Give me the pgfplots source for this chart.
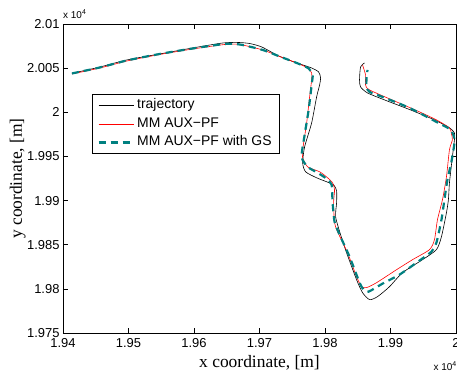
\documentclass[border=0pt]{standalone}
\usepackage{pgfplots}
\pgfplotsset{compat=1.18}
\usepackage{fontspec}
\setmainfont{Liberation Serif}
\setsansfont{Liberation Sans}
\definecolor{gsteal}{rgb}{0.0,0.5,0.5}
\begin{document}
\begin{tikzpicture}
\begin{axis}[
  at={(0,0)}, anchor=south west,
  scale only axis, width=393bp, height=309bp,
  xmin=19400, xmax=20000, ymin=19750, ymax=20100,
  scaled ticks=false,
  xtick={19400,19500,19600,19700,19800,19900,20000},
  xticklabels={1.94,1.95,1.96,1.97,1.98,1.99,2},
  ytick={19750,19800,19850,19900,19950,20000,20050,20100},
  yticklabels={1.975,1.98,1.985,1.99,1.995,2,2.005,2.01},
  tick align=inside, major tick length=5bp,
  axis line style={line width=0.9bp},
  every tick/.style={black, line width=0.6bp},
  tick label style={font=\sffamily\fontsize{13}{15}\selectfont},
  xticklabel style={yshift=-2bp},
  legend image code/.code={\draw[#1] (0bp,0bp) -- (35bp,0bp);},
  legend style={at={(rel axis cs:0.0738,0.7735)}, anchor=north west,
    draw=black, line width=0.9bp,
    font=\sffamily\fontsize{14}{16}\selectfont,
    nodes={text height=9.5bp, text depth=3bp, inner ysep=0bp, inner xsep=2.5bp},
    row sep=6bp, inner xsep=5bp, inner ysep=4.75bp},
  legend cell align=left,
]
\addplot[black, line width=0.6bp, smooth, tension=0.4] coordinates {
(19413.7,20044.2) (19455.0,20051.0) (19497.6,20059.3) (19547.9,20066.1) (19598.2,20072.9)
(19643.9,20078.5) (19666.8,20079.1) (19685.1,20077.9) (19703.4,20074.0) (19729.3,20063.8)
(19756.7,20055.9) (19779.6,20050.2) (19790.3,20045.7) (19793.3,20038.9) (19791.8,20031.0)
(19787.2,20017.4) (19779.6,19988.0) (19768.9,19960.9) (19765.9,19942.8) (19770.4,19932.6)
(19787.2,19925.8) (19802.5,19921.3) (19813.1,19917.9) (19817.7,19911.1) (19817.7,19897.5)
(19816.2,19881.7) (19823.8,19861.3) (19832.9,19841.0) (19848.2,19810.4) (19857.3,19795.7)
(19868.0,19787.8) (19880.2,19791.2) (19898.5,19802.5) (19918.3,19818.3) (19948.8,19833.0)
(19970.1,19844.4) (19977.8,19859.1) (19985.4,19886.2) (19988.4,19900.9) (19990.0,19920.1)
(19994.5,19949.6) (19997.6,19968.8) (19997.6,19976.7) (19990.0,19982.4) (19967.1,19991.4)
(19930.5,20002.7) (19890.9,20014.0) (19864.9,20021.9) (19854.3,20028.7) (19852.7,20036.7)
(19854.3,20051.4) (19860.4,20055.9)
};
\addlegendentry{trajectory}
\addplot[red, line width=0.6bp, smooth, tension=0.4] coordinates {
(19413.7,20043.4) (19456.4,20050.2) (19497.6,20058.1) (19547.9,20065.5) (19598.2,20071.7)
(19647.0,20076.8) (19669.8,20076.8) (19704.9,20070.6) (19730.8,20063.2) (19756.7,20055.9)
(19773.5,20050.2) (19779.6,20044.6) (19779.6,20036.7) (19776.5,20017.4) (19772.0,19988.0)
(19765.9,19957.5) (19765.9,19948.4) (19773.5,19938.2) (19791.8,19932.6) (19804.0,19925.8)
(19811.6,19920.1) (19814.6,19912.2) (19813.1,19897.5) (19814.6,19874.9) (19819.2,19864.7)
(19834.4,19840.9) (19848.2,19813.8) (19855.8,19802.5) (19863.4,19801.4) (19878.7,19807.0)
(19909.2,19821.7) (19933.5,19833.0) (19959.5,19844.4) (19967.1,19855.7) (19971.7,19878.3)
(19979.3,19900.9) (19985.4,19926.9) (19990.0,19957.5) (19994.5,19968.8) (19993.0,19975.6)
(19990.0,19982.4) (19970.1,19991.4) (19944.2,20000.5) (19909.2,20011.8) (19868.0,20025.3)
(19861.9,20031.0) (19861.9,20042.3) (19857.3,20053.6)
};
\addlegendentry{MM AUX−PF}
\addplot[gsteal, line width=2.2bp, dash pattern=on 7bp off 5bp, smooth, tension=0.4] coordinates {
(19413.7,20044.0) (19456.4,20050.8) (19497.6,20058.7) (19547.9,20066.1) (19598.2,20072.3)
(19647.0,20077.4) (19669.8,20076.8) (19704.9,20070.6) (19730.8,20063.2) (19756.7,20055.9)
(19775.0,20049.7) (19781.1,20042.3) (19779.6,20031.0) (19775.0,20002.7) (19768.9,19974.4)
(19764.3,19949.5) (19773.5,19938.2) (19788.7,19931.5) (19802.5,19924.7) (19810.1,19917.9)
(19811.6,19897.5) (19814.6,19876.0) (19822.3,19861.3) (19837.5,19836.4) (19852.8,19807.0)
(19858.9,19799.1) (19866.5,19796.8) (19887.8,19805.9) (19913.7,19816.1) (19939.6,19829.6)
(19962.5,19842.1) (19970.1,19852.3) (19977.8,19878.3) (19982.3,19900.9) (19986.9,19923.5)
(19993.0,19943.9) (19997.6,19965.4) (19996.0,19974.4) (19990.0,19981.2) (19970.1,19989.1)
(19928.9,20005.0) (19887.8,20017.4) (19868.0,20023.1) (19863.4,20028.7) (19863.4,20038.9)
(19864.9,20048.0)
};
\addlegendentry{MM AUX−PF with GS}
\end{axis}
\node[anchor=base, font=\fontsize{17.5}{20}\selectfont] at (196.5bp,-34bp) {x coordinate, [m]};
\node[anchor=base, rotate=90, font=\fontsize{17.5}{20}\selectfont] at (-41bp,154.5bp) {y coordinate, [m]};
\node[anchor=base west, inner sep=0pt, font=\sffamily\fontsize{10}{12}\selectfont] at (0bp,314.5bp) {x 10\textsuperscript{4}};
\node[anchor=base east, inner sep=0pt, font=\sffamily\fontsize{10}{12}\selectfont] at (394bp,-37bp) {x 10\textsuperscript{4}};
\pgfresetboundingbox
\path[use as bounding box] (-63bp,-39bp) rectangle (394bp,333bp);
\end{tikzpicture}
\end{document}
